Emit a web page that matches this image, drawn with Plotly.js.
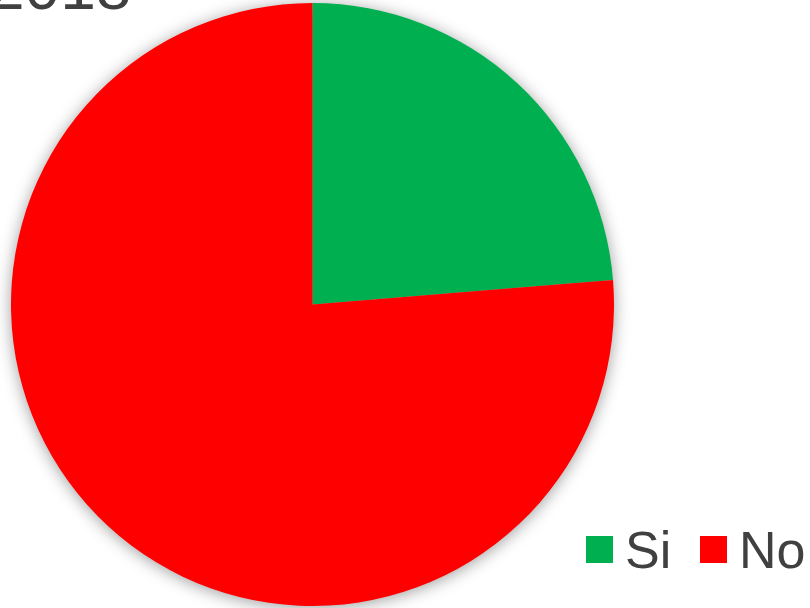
<!DOCTYPE html>
<html>
<head>
<meta charset="utf-8">
<script src="https://cdn.plot.ly/plotly-3.0.1.min.js"></script>
<style>
  html, body { margin: 0; padding: 0; background: #ffffff; }
  #chart { width: 810px; height: 608px; }
  .pielayer .trace { filter: drop-shadow(0px 2px 8px rgba(0,0,0,0.38)); }
</style>
</head>
<body>
<div id="chart"></div>
<script>
var chartTitle = "2018";
var labels = ["Si", "No"];
var values = [23.7, 76.3];
var colors = ["#00B050", "#FF0000"];

var W = 810, H = 608;
var textColor = "#404040";
var fontFam = "Liberation Sans, Arial, sans-serif";

var trace = {
  type: "pie",
  labels: labels,
  values: values,
  sort: false,
  direction: "clockwise",
  rotation: 0,
  textinfo: "none",
  hoverinfo: "label+percent",
  marker: { colors: colors, line: { width: 0 } },
  domain: { x: [11 / W, 614 / W], y: [(H - 606) / H, (H - 3) / H] },
  showlegend: false
};

// custom legend built from labels & colors
var legSquare = 27;
var legY0 = 536;
var legXs = [586, 700];
var shapes = [];
var annotations = [];
for (var i = 0; i < labels.length; i++) {
  shapes.push({
    type: "rect", xref: "paper", yref: "paper",
    x0: legXs[i] / W, x1: (legXs[i] + legSquare) / W,
    y0: (H - legY0 - legSquare) / H, y1: (H - legY0) / H,
    fillcolor: colors[i], line: { width: 0 }
  });
  annotations.push({
    xref: "paper", yref: "paper",
    x: (legXs[i] + legSquare + 10) / W, y: (H - 549.5) / H,
    xanchor: "left", yanchor: "middle",
    text: labels[i], showarrow: false,
    font: { family: fontFam, size: 52, color: textColor }
  });
}
annotations.push({
  xref: "paper", yref: "paper",
  x: -13 / W, y: (H - 25) / H,
  xanchor: "left", yanchor: "bottom",
  text: chartTitle, showarrow: false,
  font: { family: fontFam, size: 64, color: textColor }
});

var layout = {
  width: W, height: H,
  margin: { l: 0, r: 0, t: 0, b: 0 },
  paper_bgcolor: "#ffffff",
  plot_bgcolor: "#ffffff",
  showlegend: false,
  shapes: shapes,
  annotations: annotations
};

Plotly.newPlot("chart", [trace], layout, { displayModeBar: false, staticPlot: true });
</script>
</body>
</html>
